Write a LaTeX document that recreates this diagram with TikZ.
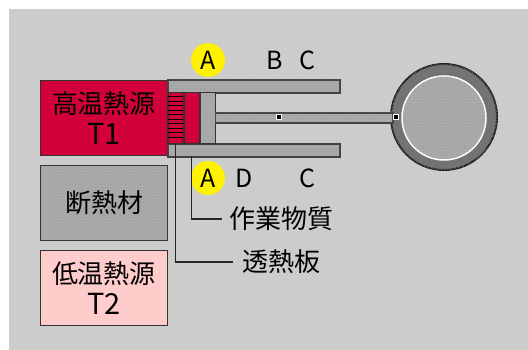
\documentclass[tikz,border=0pt]{standalone}
\usepackage{fontspec}
\setmainfont{Noto Sans CJK JP}
\usetikzlibrary{patterns,calc}

\definecolor{bggray}{RGB}{204,204,204}
\definecolor{hotred}{RGB}{210,0,56}
\definecolor{coldpink}{RGB}{255,204,204}
\definecolor{wallgray}{RGB}{170,170,170}
\definecolor{ringgray}{RGB}{115,115,115}

\begin{document}
\begin{tikzpicture}[x=1pt,y=-1pt,
  box/.style={draw=black!80,line width=1.3pt,minimum width=127pt,minimum height=75pt,
    align=center,inner sep=0pt,font=\fontsize{26}{31}\selectfont},
  speckled/.style={fill=wallgray,postaction={pattern=dots,pattern color=black!45}},
  wall/.style={draw=black!75,line width=1.2pt,speckled},
  layer/.style={draw=black!80,line width=1pt,minimum width=15pt,minimum height=51pt,inner sep=0pt},
  letter/.style={inner sep=0pt,font=\fontsize{25}{25}\selectfont},
  yellowdot/.style={letter,circle,fill=yellow,minimum size=34pt},
  pin/.style={draw=white,fill=black,line width=1pt,minimum size=5pt,inner sep=0pt},
  leader/.style={draw=black!85,line width=1.1pt},
  tag/.style={anchor=west,inner sep=0pt,font=\fontsize{26}{26}\selectfont}]
\useasboundingbox (0,0) rectangle (528,350);
\fill[white] (0,0) rectangle (528,350);
\fill[bggray] (9,9) rectangle (528,350);

% heat sources and insulator
\node[box,fill=hotred] (hot) at (104,118) {高温熱源\\{\fontsize{29}{31}\selectfont T1}};
\node[box,speckled] (insul) at (104,203) {断熱材};
\node[box,fill=coldpink] (cold) at (104,288) {低温熱源\\{\fontsize{29}{31}\selectfont T2}};

% cylinder
\draw[wall] (168,80) rectangle (340,93);
\draw[wall] (168,144) rectangle (340,157);
\node[layer,fill=hotred] (fins) at (175.5,118.5) {};
\foreach \y in {97,101.5,...,141} \draw[line width=1pt] (168,\y) -- (183,\y);
\node[layer,fill=hotred] (plate) at (191.5,118.5) {};
\node[layer,speckled] (piston) at (207.5,118.5) {};

% flywheel
\node[circle,draw=black!85,line width=2pt,fill=ringgray,minimum size=106pt,
  postaction={pattern=north east lines,pattern color=black!55}] (wheel) at (444,117) {};
\node[circle,draw=white,line width=1.5pt,speckled,minimum size=84pt] (disc) at (444,118) {};

% piston rod
\node[pin] (crank) at (396,117.5) {};
\draw[wall] ($(piston.east)+(0,-5.5)$) rectangle ($(crank.west)+(0,5.5)$);
\node[pin] (joint) at (279,117.5) {};
\node[pin] at (crank) {};

% state letters
\node[yellowdot] (a1) at (208,60) {A};
\node[letter] (b) at (275,60) {B};
\node[letter] (c1) at (307,60) {C};
\node[yellowdot] (a2) at (208,178) {A};
\node[letter] (d) at (244,178) {D};
\node[letter] (c2) at (307,178) {C};

% leaders
\node[tag] (work) at (229,219) {作業物質};
\node[tag] (diath) at (242,262) {透熱板};
\draw[leader] ([yshift=-12pt]plate.south) |- ([xshift=-7pt]work.west);
\draw[leader] (fins.south) |- ([xshift=-9pt]diath.west);
\end{tikzpicture}
\end{document}
